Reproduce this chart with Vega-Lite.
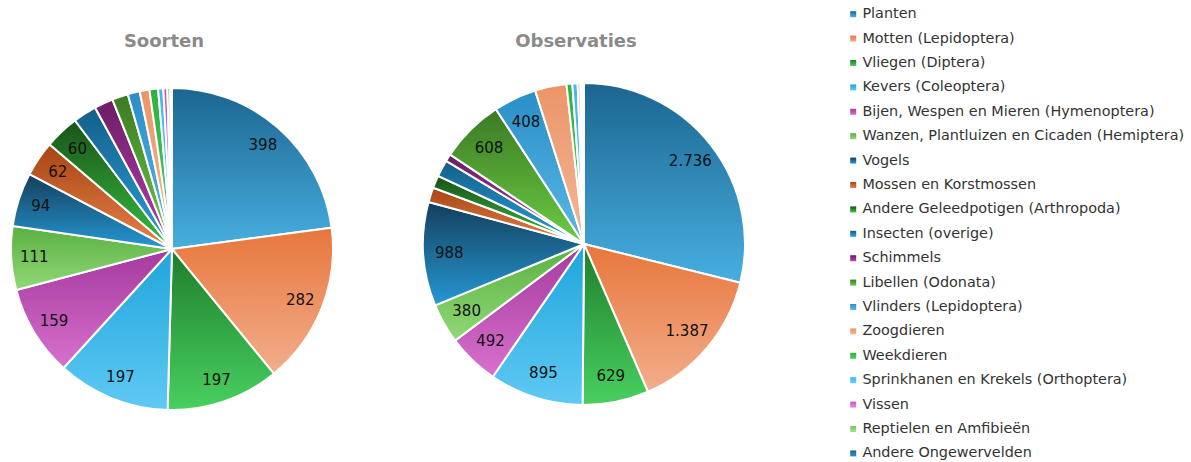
{
  "$schema": "https://vega.github.io/schema/vega-lite/v6.json",
  "padding": {"left": 2, "top": 7, "right": 0, "bottom": 0},
  "background": "#ffffff",
  "config": {
    "view": {"stroke": null},
    "locale": {"number": {"decimal": ",", "thousands": ".", "grouping": [3], "currency": ["€", ""]}},
    "title": {"font": "DejaVu Sans", "fontSize": 18, "fontWeight": "bold", "color": "#8a8a8a", "offset": 28, "dx": -8}
  },
  "datasets": {
    "groepen": [
      {"groep": "Planten", "rang": 1, "soorten": 398, "observaties": 2736},
      {"groep": "Motten (Lepidoptera)", "rang": 2, "soorten": 282, "observaties": 1387},
      {"groep": "Vliegen (Diptera)", "rang": 3, "soorten": 197, "observaties": 629},
      {"groep": "Kevers (Coleoptera)", "rang": 4, "soorten": 197, "observaties": 895},
      {"groep": "Bijen, Wespen en Mieren (Hymenoptera)", "rang": 5, "soorten": 159, "observaties": 492},
      {"groep": "Wanzen, Plantluizen en Cicaden (Hemiptera)", "rang": 6, "soorten": 111, "observaties": 380},
      {"groep": "Vogels", "rang": 7, "soorten": 94, "observaties": 988},
      {"groep": "Mossen en Korstmossen", "rang": 8, "soorten": 62, "observaties": 140},
      {"groep": "Andere Geleedpotigen (Arthropoda)", "rang": 9, "soorten": 60, "observaties": 120},
      {"groep": "Insecten (overige)", "rang": 10, "soorten": 41, "observaties": 160},
      {"groep": "Schimmels", "rang": 11, "soorten": 33, "observaties": 70},
      {"groep": "Libellen (Odonata)", "rang": 12, "soorten": 28, "observaties": 608},
      {"groep": "Vlinders (Lepidoptera)", "rang": 13, "soorten": 21, "observaties": 408},
      {"groep": "Zoogdieren", "rang": 14, "soorten": 17, "observaties": 300},
      {"groep": "Weekdieren", "rang": 15, "soorten": 15, "observaties": 55},
      {"groep": "Sprinkhanen en Krekels (Orthoptera)", "rang": 16, "soorten": 9, "observaties": 50},
      {"groep": "Vissen", "rang": 17, "soorten": 7, "observaties": 25},
      {"groep": "Reptielen en Amfibieën", "rang": 18, "soorten": 5, "observaties": 20},
      {"groep": "Andere Ongewervelden", "rang": 19, "soorten": 3, "observaties": 15}
    ]
  },
  "data": {"name": "groepen"},
  "spacing": 72,
  "hconcat": [
    {
      "width": 340,
      "height": 340,
      "title": {"text": "Soorten"},
      "layer": [
        {
          "mark": {"type": "arc", "outerRadius": 161, "stroke": "#ffffff", "strokeWidth": 2},
          "encoding": {
            "theta": {"field": "soorten", "type": "quantitative", "stack": true},
            "order": {"field": "rang", "type": "quantitative"},
            "color": {
              "field": "groep",
              "type": "nominal",
              "sort": {"field": "rang"},
              "scale": {
                "domain": ["Planten", "Motten (Lepidoptera)", "Vliegen (Diptera)", "Kevers (Coleoptera)", "Bijen, Wespen en Mieren (Hymenoptera)", "Wanzen, Plantluizen en Cicaden (Hemiptera)", "Vogels", "Mossen en Korstmossen", "Andere Geleedpotigen (Arthropoda)", "Insecten (overige)", "Schimmels", "Libellen (Odonata)", "Vlinders (Lepidoptera)", "Zoogdieren", "Weekdieren", "Sprinkhanen en Krekels (Orthoptera)", "Vissen", "Reptielen en Amfibieën", "Andere Ongewervelden"],
                "range": [
                  {"expr": "{gradient:'linear',x1:0,y1:0,x2:0,y2:1,stops:[{offset:0,color:'#1c6590'},{offset:1,color:'#47afe0'}]}"},
                  {"expr": "{gradient:'linear',x1:0,y1:0,x2:0,y2:1,stops:[{offset:0,color:'#e8763c'},{offset:1,color:'#f2ae8c'}]}"},
                  {"expr": "{gradient:'linear',x1:0,y1:0,x2:0,y2:1,stops:[{offset:0,color:'#1f7d2b'},{offset:1,color:'#48d060'}]}"},
                  {"expr": "{gradient:'linear',x1:0,y1:0,x2:0,y2:1,stops:[{offset:0,color:'#1fa5dc'},{offset:1,color:'#5fc9f3'}]}"},
                  {"expr": "{gradient:'linear',x1:0,y1:0,x2:0,y2:1,stops:[{offset:0,color:'#a43a9e'},{offset:1,color:'#d870cc'}]}"},
                  {"expr": "{gradient:'linear',x1:0,y1:0,x2:0,y2:1,stops:[{offset:0,color:'#5ab040'},{offset:1,color:'#90d878'}]}"},
                  {"expr": "{gradient:'linear',x1:0,y1:0,x2:0,y2:1,stops:[{offset:0,color:'#143f5c'},{offset:1,color:'#2598d4'}]}"},
                  {"expr": "{gradient:'linear',x1:0,y1:0,x2:0,y2:1,stops:[{offset:0,color:'#a64614'},{offset:1,color:'#e8804a'}]}"},
                  {"expr": "{gradient:'linear',x1:0,y1:0,x2:0,y2:1,stops:[{offset:0,color:'#1b5218'},{offset:1,color:'#35c040'}]}"},
                  {"expr": "{gradient:'linear',x1:0,y1:0,x2:0,y2:1,stops:[{offset:0,color:'#145f88'},{offset:1,color:'#2aa0da'}]}"},
                  {"expr": "{gradient:'linear',x1:0,y1:0,x2:0,y2:1,stops:[{offset:0,color:'#6a1e64'},{offset:1,color:'#b840b0'}]}"},
                  {"expr": "{gradient:'linear',x1:0,y1:0,x2:0,y2:1,stops:[{offset:0,color:'#3c7a24'},{offset:1,color:'#6ccc44'}]}"},
                  {"expr": "{gradient:'linear',x1:0,y1:0,x2:0,y2:1,stops:[{offset:0,color:'#2a8ec8'},{offset:1,color:'#5ab8e4'}]}"},
                  {"expr": "{gradient:'linear',x1:0,y1:0,x2:0,y2:1,stops:[{offset:0,color:'#ec9468'},{offset:1,color:'#f4b898'}]}"},
                  {"expr": "{gradient:'linear',x1:0,y1:0,x2:0,y2:1,stops:[{offset:0,color:'#30b040'},{offset:1,color:'#50d060'}]}"},
                  {"expr": "{gradient:'linear',x1:0,y1:0,x2:0,y2:1,stops:[{offset:0,color:'#40b8e8'},{offset:1,color:'#60d0f8'}]}"},
                  {"expr": "{gradient:'linear',x1:0,y1:0,x2:0,y2:1,stops:[{offset:0,color:'#d050c8'},{offset:1,color:'#e888e0'}]}"},
                  {"expr": "{gradient:'linear',x1:0,y1:0,x2:0,y2:1,stops:[{offset:0,color:'#78c860'},{offset:1,color:'#a0e090'}]}"},
                  {"expr": "{gradient:'linear',x1:0,y1:0,x2:0,y2:1,stops:[{offset:0,color:'#1a6890'},{offset:1,color:'#3090c0'}]}"}
                ]
              },
              "legend": {
                "orient": "none",
                "legendX": 844,
                "legendY": -72,
                "title": null,
                "symbolType": "square",
                "symbolSize": 36,
                "symbolStrokeWidth": 0,
                "labelFont": "DejaVu Sans",
                "labelFontSize": 14.4,
                "labelColor": "#333333",
                "labelLimit": 400,
                "labelOffset": 2,
                "rowPadding": 9.4
              }
            }
          }
        },
        {
          "mark": {"type": "text", "radius": 138, "font": "DejaVu Sans", "fontSize": 15, "color": "#111111"},
          "encoding": {
            "theta": {"field": "soorten", "type": "quantitative", "stack": true},
            "order": {"field": "rang", "type": "quantitative"},
            "text": {"field": "soorten", "type": "quantitative", "format": ",d", "condition": {"test": "datum.soorten < 60", "value": ""}}
          }
        }
      ]
    },
    {
      "width": 340,
      "height": 330,
      "title": {"text": "Observaties"},
      "layer": [
        {
          "mark": {"type": "arc", "outerRadius": 161, "stroke": "#ffffff", "strokeWidth": 2},
          "encoding": {
            "theta": {"field": "observaties", "type": "quantitative", "stack": true},
            "order": {"field": "rang", "type": "quantitative"},
            "color": {"field": "groep", "type": "nominal", "sort": {"field": "rang"}}
          }
        },
        {
          "mark": {"type": "text", "radius": 135, "font": "DejaVu Sans", "fontSize": 15, "color": "#111111"},
          "encoding": {
            "theta": {"field": "observaties", "type": "quantitative", "stack": true},
            "order": {"field": "rang", "type": "quantitative"},
            "text": {"field": "observaties", "type": "quantitative", "format": ",d", "condition": {"test": "datum.observaties < 380", "value": ""}}
          }
        }
      ]
    }
  ],
  "resolve": {"scale": {"color": "shared", "theta": "independent"}}
}
